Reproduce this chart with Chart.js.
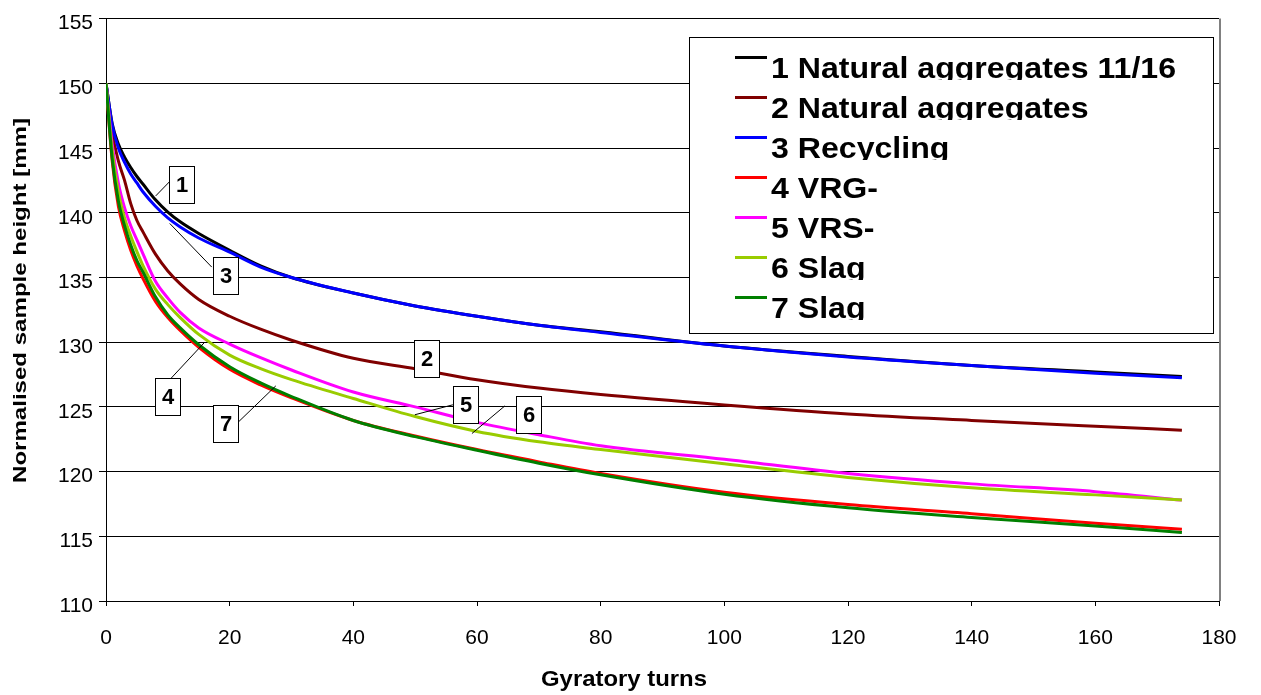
<!DOCTYPE html>
<html>
<head>
<meta charset="utf-8">
<script src="https://cdn.jsdelivr.net/npm/chart.js@4.4.1/dist/chart.umd.min.js"></script>
<style>
  html, body { margin: 0; padding: 0; background: #fff; }
  #wrap { width: 1261px; height: 695px; }
</style>
</head>
<body>
<div id="wrap"><canvas id="chart" width="1261" height="695"></canvas></div>
<script>
// gyratory turns (x) and normalised heights per mix
const turns = [0, 1, 2, 3, 4, 5, 6, 8, 10, 12, 15, 20, 25, 30, 40, 50, 60, 70, 80, 100, 120, 140, 160, 174];
const natural1116 = [150, 146.9, 145.3, 144.3, 143.5, 142.8, 142.2, 141.0, 140.05, 139.3, 138.4, 137.1, 135.9, 135.0, 133.8, 132.8, 132.0, 131.3, 130.8, 129.7, 128.9, 128.2, 127.7, 127.35];
const natural = [150, 146.2, 144.0, 142.5, 140.7, 139.4, 138.5, 136.8, 135.5, 134.5, 133.3, 132.0, 131.0, 130.15, 128.75, 127.95, 127.1, 126.45, 125.95, 125.15, 124.45, 123.95, 123.5, 123.2];
const recycling = [150, 146.8, 145.0, 143.9, 143.0, 142.3, 141.6, 140.5, 139.6, 138.9, 138.05, 136.95, 135.8, 135.0, 133.8, 132.8, 132.0, 131.3, 130.75, 129.7, 128.85, 128.2, 127.6, 127.25];
const vrg = [150, 144.0, 140.5, 138.6, 137.1, 135.9, 134.9, 133.15, 131.9, 130.9, 129.6, 127.9, 126.7, 125.7, 123.95, 122.75, 121.7, 120.75, 119.85, 118.4, 117.45, 116.75, 116.0, 115.55];
const vrs = [150, 145.3, 142.3, 140.4, 139.0, 137.9, 136.8, 134.7, 133.4, 132.3, 131.1, 129.85, 128.8, 127.85, 126.15, 125.0, 123.8, 122.85, 122.0, 120.95, 119.85, 119.05, 118.45, 117.8];
const slag6 = [150, 144.8, 141.6, 139.6, 138.2, 137.0, 135.9, 134.1, 132.9, 131.9, 130.6, 129.0, 127.95, 127.1, 125.65, 124.25, 123.1, 122.3, 121.7, 120.6, 119.55, 118.75, 118.2, 117.8];
const slag7 = [150, 144.2, 140.9, 139.0, 137.5, 136.3, 135.4, 133.5, 132.1, 131.1, 129.8, 128.1, 126.85, 125.8, 123.95, 122.7, 121.65, 120.65, 119.75, 118.25, 117.2, 116.45, 115.8, 115.3];

const seriesNames = ['1 Natural aggregates 11/16', '2 Natural aggregates', '3 Recycling', '4 VRG-', '5 VRS-', '6 Slag', '7 Slag'];
const seriesValues = [natural1116, natural, recycling, vrg, vrs, slag6, slag7];
const seriesColors = ['#000000', '#800000', '#0000ff', '#ff0000', '#ff00ff', '#99cc00', '#008000'];

const xTickValues = [0, 20, 40, 60, 80, 100, 120, 140, 160, 180];
const yTickValues = [110, 115, 120, 125, 130, 135, 140, 145, 150, 155];

// numbered callouts: box centre and leader line, in data units
const callouts = [
  { label: '1', at: [12.25, 142.18], leader: [[10.34, 142.43], [8.04, 141.3]] },
  { label: '3', at: [19.37, 135.08], leader: [[17.1, 135.8], [10.31, 139.17]] },
  { label: '2', at: [51.9, 128.72], leader: null },
  { label: '4', at: [10.06, 125.77], leader: [[10.31, 127.1], [15.97, 130.0]] },
  { label: '7', at: [19.37, 123.67], leader: [[21.47, 123.86], [27.46, 126.62]] },
  { label: '5', at: [58.28, 125.16], leader: [[56.1, 125.16], [49.95, 124.39]] },
  { label: '6', at: [68.48, 124.36], leader: [[64.52, 125.08], [59.18, 122.94]] },
];

const FONT = '"Liberation Sans", Arial, sans-serif';

function fillStretched(ctx, text, x, y, width) {
  const w = ctx.measureText(text).width;
  ctx.save();
  ctx.translate(x, y);
  ctx.scale(width / w, 1);
  ctx.fillText(text, 0, 0);
  ctx.restore();
}

const overlay = {
  id: 'overlay',
  afterDraw(chart) {
    const { ctx, chartArea: a } = chart;
    const xs = chart.scales.x, ys = chart.scales.y;
    const px = (v) => xs.getPixelForValue(v);
    const py = (v) => ys.getPixelForValue(v);
    ctx.save();

    // right edge of plot area
    ctx.strokeStyle = '#808080';
    ctx.lineWidth = 2;
    ctx.beginPath();
    ctx.moveTo(a.right + 1, a.top);
    ctx.lineTo(a.right + 1, a.bottom);
    ctx.stroke();

    // callouts
    ctx.lineWidth = 1;
    ctx.strokeStyle = '#000';
    callouts.forEach((c) => {
      if (c.leader) {
        ctx.beginPath();
        ctx.moveTo(px(c.leader[0][0]), py(c.leader[0][1]));
        ctx.lineTo(px(c.leader[1][0]), py(c.leader[1][1]));
        ctx.stroke();
      }
      const cx = Math.round(px(c.at[0])), cy = Math.round(py(c.at[1]));
      ctx.fillStyle = '#fff';
      ctx.fillRect(cx - 12.5, cy - 18.5, 25, 37);
      ctx.strokeRect(cx - 12.5, cy - 18.5, 25, 37);
      ctx.fillStyle = '#000';
      ctx.font = 'bold 22px ' + FONT;
      ctx.textAlign = 'center';
      ctx.textBaseline = 'middle';
      ctx.fillText(c.label, cx, cy + 1);
    });

    // legend box
    ctx.fillStyle = '#fff';
    ctx.fillRect(689.5, 37.5, 524, 296);
    ctx.strokeStyle = '#000';
    ctx.lineWidth = 1;
    ctx.strokeRect(689.5, 37.5, 524, 296);
    ctx.font = 'bold 30px ' + FONT;
    ctx.textAlign = 'left';
    ctx.textBaseline = 'alphabetic';
    const stretch = 405 / ctx.measureText(seriesNames[0]).width;
    seriesNames.forEach((name, i) => {
      const ly = 57.5 + 40 * i;
      ctx.strokeStyle = seriesColors[i];
      ctx.lineWidth = 3;
      ctx.beginPath();
      ctx.moveTo(735, ly);
      ctx.lineTo(767, ly);
      ctx.stroke();
      const base = 78 + 40 * i;
      ctx.save();
      ctx.beginPath();
      ctx.rect(760, base - 30, 450, 32);
      ctx.clip();
      ctx.fillStyle = '#000';
      fillStretched(ctx, name, 771, base, ctx.measureText(name).width * stretch);
      ctx.restore();
    });

    // axis titles
    ctx.fillStyle = '#000';
    ctx.font = 'bold 22px ' + FONT;
    ctx.textAlign = 'left';
    ctx.textBaseline = 'alphabetic';
    fillStretched(ctx, 'Gyratory turns', 541, 686, 166);

    ctx.save();
    ctx.translate(26, 483);
    ctx.rotate(-Math.PI / 2);
    ctx.font = 'bold 19px ' + FONT;
    fillStretched(ctx, 'Normalised sample height [mm]', 0, 0, 365);
    ctx.restore();

    ctx.restore();
  }
};

const datasets = seriesValues.map((vals, i) => ({
  label: seriesNames[i],
  data: turns.map((t, k) => ({ x: t, y: vals[k] })),
  borderColor: seriesColors[i],
  backgroundColor: seriesColors[i],
  borderWidth: 3,
  pointRadius: 0,
  cubicInterpolationMode: 'monotone',
  order: seriesNames.length - i,
}));

new Chart(document.getElementById('chart'), {
  type: 'line',
  data: { datasets },
  options: {
    responsive: false,
    animation: false,
    layout: { padding: { left: 0, right: 42, top: 13, bottom: 0 } },
    plugins: { legend: { display: false }, tooltip: { enabled: false } },
    scales: {
      x: {
        type: 'linear',
        min: 0,
        max: 180,
        afterBuildTicks: (s) => { s.ticks = xTickValues.map((v) => ({ value: v })); },
        afterFit: (s) => { s.height = 94; },
        grid: { drawOnChartArea: false, drawTicks: true, tickLength: 5, color: '#000' },
        border: { display: true, color: '#000', width: 1 },
        ticks: { color: '#000', padding: 20, maxRotation: 0, font: { family: FONT, size: 21 } },
      },
      y: {
        type: 'linear',
        min: 110,
        max: 155,
        afterBuildTicks: (s) => { s.ticks = yTickValues.map((v) => ({ value: v })); },
        afterFit: (s) => { s.width = 106; },
        grid: { color: '#000', lineWidth: 1, tickLength: 7 },
        border: { display: true, color: '#000', width: 1 },
        ticks: { color: '#000', padding: 6, labelOffset: 5, font: { family: FONT, size: 21 } },
      },
    },
  },
  plugins: [overlay],
});
</script>
</body>
</html>
